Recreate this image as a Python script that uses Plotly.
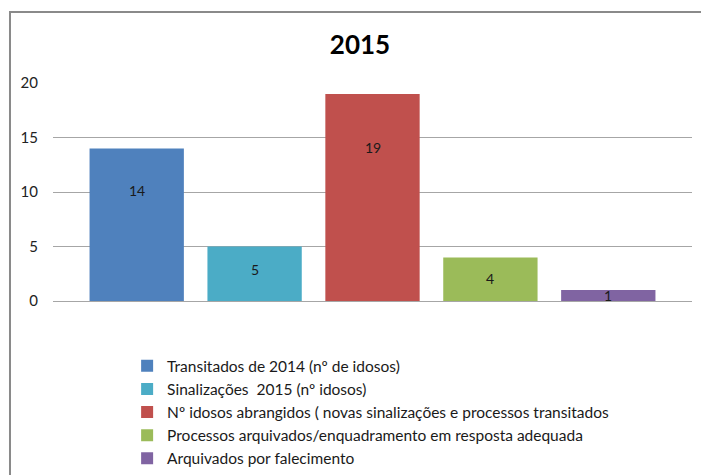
import plotly.graph_objects as go

categories = [
    "Transitados de 2014 (nº de idosos)",
    "Sinalizações  2015 (nº idosos)",
    "Nº idosos abrangidos ( novas sinalizações e processos transitados",
    "Processos arquivados/enquadramento em resposta adequada",
    "Arquivados por falecimento",
]
values = [14, 5, 19, 4, 1]
colors = ["#4F81BD", "#4BACC6", "#C0504D", "#9BBB59", "#8064A2"]
y_ticks = [0, 5, 10, 15, 20]
title_text = "2015"

FONT = "Lato, 'Open Sans', sans-serif"

fig = go.Figure()
for i, (name, v, c) in enumerate(zip(categories, values, colors)):
    fig.add_trace(go.Bar(
        x=[i], y=[v], name=name, marker=dict(color=c, line=dict(width=0)),
        width=0.8, legendgroup=f"g{i}", showlegend=True,
    ))
    ly = max(v / 2, 0.8 * v - 1.1)
    fig.add_annotation(x=i, y=ly, text=str(v), showarrow=False,
                       font=dict(family=FONT, size=14, color="#1a1a1a"),
                       xref="x", yref="y")

fig.add_shape(type="rect", xref="paper", yref="paper",
              x0=-0.0673, x1=1.3, y0=-1.0, y1=1.3257,
              line=dict(color="#8a8a8a", width=2), layer="below")

fig.update_layout(
    width=701, height=475,
    margin=dict(l=53, r=9, t=83, b=174, autoexpand=False),
    paper_bgcolor="white", plot_bgcolor="white",
    barmode="overlay",
    title=dict(text=f"<b>{title_text}</b>", x=360 / 701, xanchor="center",
               y=1 - 45 / 475, yanchor="middle",
               font=dict(family=FONT, size=26, color="#000000")),
    font=dict(family=FONT, size=14, color="#222222"),
    xaxis=dict(range=[-0.71, 4.71], showticklabels=False, showgrid=False,
               zeroline=False, showline=False, fixedrange=True),
    yaxis=dict(range=[0, 20], tickvals=y_ticks, showgrid=True,
               gridcolor="#a6a6a6", gridwidth=1, zeroline=True,
               zerolinecolor="#a6a6a6", zerolinewidth=1, showline=False,
               ticklabelstandoff=14,
               tickfont=dict(family=FONT, size=15, color="#222222")),
    legend=dict(x=0.116, xanchor="left", y=-0.221, yanchor="top",
                font=dict(family=FONT, size=15.5, color="#1a1a1a"),
                tracegroupgap=3, bgcolor="rgba(0,0,0,0)", traceorder="normal"),
    showlegend=True,
)

fig.write_html("out.html")
